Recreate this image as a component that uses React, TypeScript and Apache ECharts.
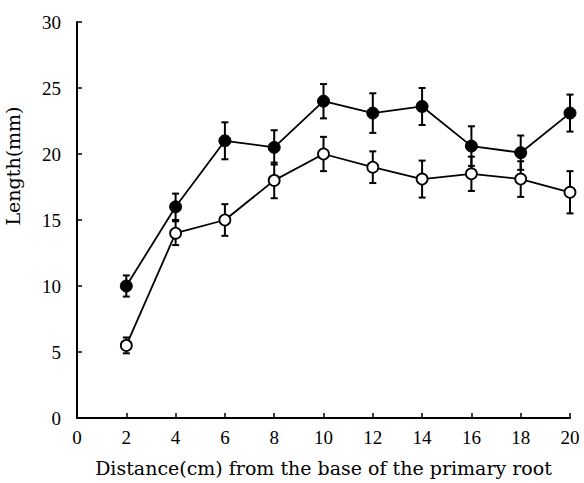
import React, { useEffect, useRef } from "react";
import * as echarts from "echarts";

const xValues = [2, 4, 6, 8, 10, 12, 14, 16, 18, 20];
const filledValues = [10, 16, 21, 20.5, 24, 23.1, 23.6, 20.6, 20.1, 23.1];
const filledErrors = [0.8, 1.0, 1.4, 1.3, 1.3, 1.5, 1.4, 1.5, 1.3, 1.4];
const openValues = [5.5, 14, 15, 18, 20, 19, 18.1, 18.5, 18.1, 17.1];
const openErrors = [0.6, 0.9, 1.2, 1.35, 1.3, 1.2, 1.4, 1.3, 1.35, 1.6];

const xAxisTitle = "Distance(cm) from the base of the primary root";
const yAxisTitle = "Length(mm)";

const tickFont = "'Liberation Serif', 'Times New Roman', serif";
const titleFont = "'DejaVu Serif', serif";

function errorSeries(values: number[], errors: number[], name: string) {
  const data = xValues.map((x, i) => [x, values[i] - errors[i], values[i] + errors[i]]);
  return {
    type: "custom",
    name,
    z: 1,
    data,
    renderItem: (params: any, api: any) => {
      const x = api.value(0);
      const lo = api.coord([x, api.value(1)]);
      const hi = api.coord([x, api.value(2)]);
      const hw = 3.5;
      const style = { stroke: "#000", lineWidth: 2 };
      return {
        type: "group",
        children: [
          { type: "line", shape: { x1: lo[0], y1: lo[1], x2: hi[0], y2: hi[1] }, style },
          { type: "line", shape: { x1: lo[0] - hw, y1: lo[1], x2: lo[0] + hw, y2: lo[1] }, style },
          { type: "line", shape: { x1: hi[0] - hw, y1: hi[1], x2: hi[0] + hw, y2: hi[1] }, style },
        ],
      };
    },
  };
}

export default function App() {
  const ref = useRef<HTMLDivElement>(null);
  useEffect(() => {
    if (!ref.current) return;
    const chart = echarts.init(ref.current, undefined, { renderer: "svg" });
    chart.setOption({
      animation: false,
      backgroundColor: "#fff",
      grid: { left: 77, right: 14, top: 22, bottom: 65, containLabel: false },
      xAxis: {
        type: "value",
        min: 0,
        max: 20,
        interval: 2,
        name: xAxisTitle,
        nameLocation: "middle",
        nameGap: 40,
        nameTextStyle: { fontFamily: titleFont, fontSize: 19, color: "#000" },
        axisLine: { lineStyle: { color: "#000", width: 2 } },
        axisTick: { inside: true, length: 5, lineStyle: { color: "#000", width: 1.5 } },
        axisLabel: { fontFamily: tickFont, fontSize: 19, color: "#000", margin: 10 },
        splitLine: { show: false },
      },
      yAxis: {
        type: "value",
        min: 0,
        max: 30,
        interval: 5,
        axisLine: { show: true, lineStyle: { color: "#000", width: 2 } },
        axisTick: { show: true, inside: true, length: 5, lineStyle: { color: "#000", width: 1.5 } },
        axisLabel: { fontFamily: tickFont, fontSize: 19, color: "#000", margin: 16 },
        splitLine: { show: false },
      },
      graphic: [
        {
          type: "text",
          x: 13,
          y: 166,
          rotation: Math.PI / 2,
          style: {
            text: yAxisTitle,
            fontFamily: titleFont,
            fontSize: 19,
            fill: "#000",
            align: "center",
            verticalAlign: "middle",
          },
        },
      ],
      series: [
        errorSeries(filledValues, filledErrors, "filledErr"),
        errorSeries(openValues, openErrors, "openErr"),
        {
          type: "line",
          name: "filled",
          z: 3,
          data: xValues.map((x, i) => [x, filledValues[i]]),
          symbol: "circle",
          symbolSize: 12,
          showAllSymbol: true,
          lineStyle: { color: "#000", width: 1.8 },
          itemStyle: { color: "#000", borderColor: "#000", borderWidth: 1 },
        },
        {
          type: "line",
          name: "open",
          z: 3,
          data: xValues.map((x, i) => [x, openValues[i]]),
          symbol: "circle",
          symbolSize: 11,
          showAllSymbol: true,
          lineStyle: { color: "#000", width: 1.8 },
          itemStyle: { color: "#fff", borderColor: "#000", borderWidth: 1.8 },
        },
      ],
    });
    return () => chart.dispose();
  }, []);
  return (
    <div
      ref={ref}
      style={{ position: "fixed", left: 0, top: 0, width: 584, height: 483, background: "#fff" }}
    />
  );
}
